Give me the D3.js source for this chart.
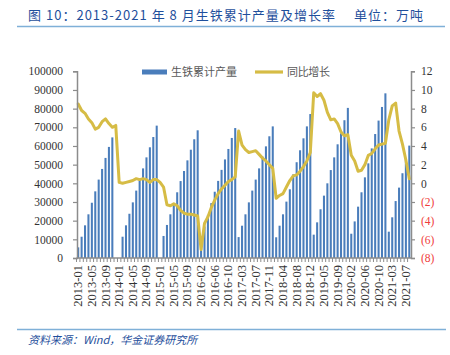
<!DOCTYPE html>
<html><head><meta charset="utf-8">
<script src="https://cdn.jsdelivr.net/npm/d3@7"></script>
<style>body{margin:0;background:#fff}</style>
</head><body><svg id="c" width="450" height="355"></svg>
<script>
// ---- data ----
const categories = [
"2013-01","2013-02","2013-03","2013-04","2013-05","2013-06","2013-07","2013-08","2013-09","2013-10","2013-11","2013-12",
"2014-01","2014-02","2014-03","2014-04","2014-05","2014-06","2014-07","2014-08","2014-09","2014-10","2014-11","2014-12",
"2015-01","2015-02","2015-03","2015-04","2015-05","2015-06","2015-07","2015-08","2015-09","2015-10","2015-11","2015-12",
"2016-02","2016-03","2016-04","2016-05","2016-06","2016-07","2016-08","2016-09","2016-10","2016-11","2016-12",
"2017-02","2017-03","2017-04","2017-05","2017-06","2017-07","2017-08","2017-09","2017-10","2017-11","2017-12",
"2018-02","2018-03","2018-04","2018-05","2018-06","2018-07","2018-08","2018-09","2018-10","2018-11","2018-12",
"2019-02","2019-03","2019-04","2019-05","2019-06","2019-07","2019-08","2019-09","2019-10","2019-11","2019-12",
"2020-02","2020-03","2020-04","2020-05","2020-06","2020-07","2020-08","2020-09","2020-10","2020-11","2020-12",
"2021-02","2021-03","2021-04","2021-05","2021-06","2021-07","2021-08"];

// 生铁累计产量 (万吨)
const output = [
5700,11400,17500,23400,29600,35700,42000,47700,53600,59500,64600,null,
null,11400,17500,23700,29800,36100,42000,48000,53900,59300,64800,70900,
null,11800,17700,23400,29300,35200,41200,46600,52300,58000,63600,68400,
10900,16900,23100,29400,35500,41300,47200,52800,58400,64300,69600,
11200,17300,23400,29800,36100,42000,48000,54300,59800,65200,70500,
11100,17300,23400,30200,36800,44800,51300,57700,64100,70500,77100,
12500,19100,26100,33400,40000,47100,53900,60900,66800,73800,80400,
13000,19600,27500,35200,43200,50700,58700,66400,73600,80900,88200,
14100,21800,30500,37700,45400,53000,60200];

// 同比增长 (%)
const growth = [
8.5,7.8,7.5,6.9,6.5,5.8,6.0,6.6,6.9,6.4,6.0,6.2,
0.1,0.0,0.1,0.2,0.3,0.5,0.4,0.5,0.4,0.1,0.4,0.4,
0.1,-0.4,-2.3,-2.4,-2.2,-2.4,-2.9,-3.2,-3.3,-3.3,-3.4,-3.5,
-7.1,-4.3,-3.6,-2.6,-1.8,-1.1,-0.6,-0.2,0.2,0.4,0.7,
5.6,4.1,3.6,3.3,3.4,3.5,3.1,2.7,2.4,2.0,1.6,
-1.6,-1.3,-1.1,-0.4,0.3,0.8,0.9,1.3,1.8,2.4,3.3,
9.7,9.3,9.6,8.9,7.6,6.8,6.9,6.4,5.5,5.1,5.2,
3.0,2.4,1.3,1.4,2.0,3.0,3.2,3.7,4.1,4.2,4.3,
6.8,8.3,8.6,5.6,4.2,2.5,0.5];

const xTickLabels = ["2013-01","2013-05","2013-09","2014-01","2014-05","2014-09","2015-01","2015-05","2015-09",
"2016-02","2016-06","2016-10","2017-03","2017-07","2017-11","2018-04","2018-08","2018-12",
"2019-05","2019-09","2020-02","2020-06","2020-10","2021-03","2021-07"];
const leftTicks = [0,10000,20000,30000,40000,50000,60000,70000,80000,90000,100000];
const rightTicks = [-8,-6,-4,-2,0,2,4,6,8,10,12];

const titleText = "图 10：2013-2021 年 8 月生铁累计产量及增长率　 单位：万吨";
const sourceText = "资料来源：Wind，华金证券研究所";
const seriesNames = ["生铁累计产量","同比增长"];

// ---- drawing ----
const svg = d3.select("#c");
const cjk = "'Noto Sans CJK SC','Noto Sans',sans-serif";
const serif = "'Liberation Serif','DejaVu Serif',serif";
const barColor = "#4a7dbb", lineColor = "#d6bc45", axisColor = "#8c8c8c";

const x = d3.scaleBand().domain(categories).range([76.5, 411]).paddingInner(0.4).paddingOuter(0.2);
const yL = d3.scaleLinear().domain([0, 100000]).range([258, 71.3]);
const yR = d3.scaleLinear().domain([-8, 12]).range([258, 71.3]);

// title
svg.append("text").attr("x", 28).attr("y", 20).attr("font-family", cjk).attr("font-size", 13)
  .attr("fill", "#1f4f9c").attr("textLength", 395).attr("lengthAdjust", "spacing").text(titleText);
svg.append("line").attr("x1", 17).attr("x2", 445).attr("y1", 26.5).attr("y2", 26.5)
  .attr("stroke", "#7fb0d8").attr("stroke-width", 1.6);
// bottom rule + source
svg.append("line").attr("x1", 17).attr("x2", 446).attr("y1", 329.5).attr("y2", 329.5)
  .attr("stroke", "#7fb0d8").attr("stroke-width", 1.6);
svg.append("text").attr("x", 28).attr("y", 344).attr("font-family", cjk).attr("font-size", 11)
  .attr("font-style", "italic").attr("fill", "#1f4f9c").text(sourceText);

// bars
svg.append("g").selectAll("rect").data(categories.map((c, i) => ({c, v: output[i]})).filter(d => d.v != null))
  .join("rect")
  .attr("x", d => x(d.c)).attr("width", x.bandwidth())
  .attr("y", d => yL(d.v)).attr("height", d => yL(0) - yL(d.v))
  .attr("fill", barColor);

// line
const line = d3.line().defined(d => d.v != null)
  .x(d => x(d.c) + x.bandwidth() / 2).y(d => yR(d.v));
svg.append("path").datum(categories.map((c, i) => ({c, v: growth[i]})))
  .attr("d", line).attr("fill", "none").attr("stroke", lineColor)
  .attr("stroke-width", 3).attr("stroke-linejoin", "round").attr("stroke-linecap", "round");

// left axis
const gL = svg.append("g").attr("transform", "translate(77,0)")
  .call(d3.axisLeft(yL).tickValues(leftTicks).tickSize(4).tickPadding(10).tickFormat(d3.format("d")));
gL.select(".domain").attr("stroke", axisColor).attr("stroke-width", 1.5);
gL.selectAll(".tick line").attr("stroke", axisColor).attr("stroke-width", 1.2);
gL.selectAll("text").attr("font-family", serif).attr("font-size", 11.5).attr("fill", "#333");

// right axis
const gR = svg.append("g").attr("transform", "translate(411,0)")
  .call(d3.axisRight(yR).tickValues(rightTicks).tickSize(4).tickPadding(6)
    .tickFormat(d => d < 0 ? "(" + Math.abs(d) + ")" : String(d)));
gR.select(".domain").attr("stroke", axisColor).attr("stroke-width", 1.5);
gR.selectAll(".tick line").attr("stroke", axisColor).attr("stroke-width", 1.2);
gR.selectAll("text").attr("font-family", serif).attr("font-size", 11.5)
  .attr("fill", d => d < 0 ? "#f03c3c" : "#333");

// bottom axis
const gB = svg.append("g").attr("transform", "translate(0,258)")
  .call(d3.axisBottom(x).tickSize(4).tickFormat(""));
gB.select(".domain").attr("stroke", axisColor).attr("stroke-width", 1.5)
  .attr("d", "M76.5,0H411");
gB.selectAll(".tick line").attr("stroke", axisColor).attr("stroke-width", 1)
  .attr("transform", "translate(" + (-x.step() / 2) + ",0)");
svg.append("g").selectAll("text").data(xTickLabels).join("text")
  .attr("transform", d => "translate(" + (x(d) + x.bandwidth() / 2 + 4) + ",265) rotate(-90)")
  .attr("text-anchor", "end").attr("font-family", serif).attr("font-size", 12.5).attr("fill", "#333")
  .text(d => d);

// legend
svg.append("rect").attr("x", 142).attr("y", 69.5).attr("width", 25).attr("height", 5).attr("fill", barColor);
svg.append("text").attr("x", 171).attr("y", 76).attr("font-family", cjk).attr("font-size", 11)
  .attr("fill", "#595959").attr("textLength", 66).attr("lengthAdjust", "spacing").text(seriesNames[0]);
svg.append("line").attr("x1", 255).attr("x2", 283).attr("y1", 72).attr("y2", 72)
  .attr("stroke", lineColor).attr("stroke-width", 3.2);
svg.append("text").attr("x", 287).attr("y", 76).attr("font-family", cjk).attr("font-size", 11)
  .attr("fill", "#595959").attr("textLength", 43).attr("lengthAdjust", "spacing").text(seriesNames[1]);
</script></body></html>
